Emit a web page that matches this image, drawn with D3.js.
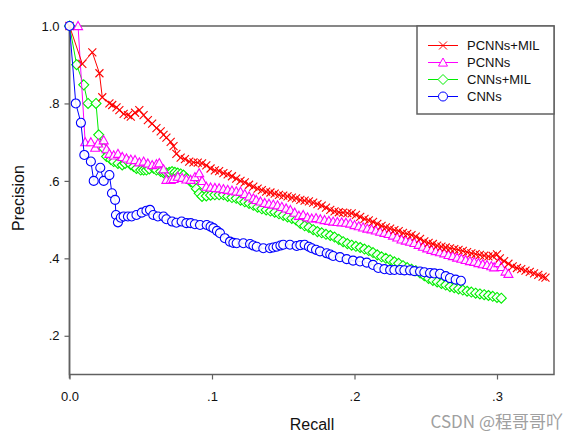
<!DOCTYPE html>
<html><head><meta charset="utf-8">
<script src="https://cdn.jsdelivr.net/npm/d3@7"></script>
<style>html,body{margin:0;padding:0;background:#fff;}svg{display:block;}</style>
</head><body>
<script>
// ---- data ----
const seriesNames = ["PCNNs+MIL", "PCNNs", "CNNs+MIL", "CNNs"];
const seriesColors = ["#ff0000", "#ff00ff", "#00ee00", "#0000ff"];
const xTicks = [0.0, 0.1, 0.2, 0.3];
const xTickLabels = ["0.0", ".1", ".2", ".3"];
const yTicks = [0.2, 0.4, 0.6, 0.8, 1.0];
const yTickLabels = [".2", ".4", ".6", ".8", "1.0"];

const pcnnsMilRecall = [0.000,0.009,0.016,0.021,0.023,0.028,0.030,0.033,0.035,0.038,0.041,0.043,0.046,0.049,0.052,0.055,0.058,0.061,0.064,0.066,0.068,0.071,0.073,0.075,0.078,0.081,0.084,0.087,0.090,0.093,0.096,0.099,0.102,0.105,0.108,0.111,0.114,0.117,0.120,0.123,0.126,0.129,0.132,0.135,0.138,0.141,0.144,0.147,0.150,0.153,0.156,0.159,0.162,0.165,0.168,0.171,0.174,0.177,0.180,0.183,0.186,0.189,0.192,0.195,0.198,0.201,0.204,0.207,0.210,0.213,0.216,0.219,0.222,0.225,0.228,0.231,0.234,0.237,0.240,0.243,0.246,0.249,0.252,0.255,0.258,0.261,0.264,0.267,0.270,0.273,0.276,0.279,0.282,0.285,0.288,0.291,0.294,0.297,0.300,0.302,0.305,0.308,0.311,0.314,0.317,0.320,0.323,0.326,0.329,0.332,0.334];
const pcnnsMilPrecision = [1.000,0.902,0.932,0.878,0.816,0.800,0.796,0.790,0.783,0.773,0.770,0.766,0.776,0.783,0.770,0.757,0.748,0.736,0.728,0.719,0.712,0.701,0.690,0.670,0.660,0.656,0.650,0.648,0.647,0.645,0.640,0.632,0.627,0.625,0.620,0.617,0.612,0.606,0.600,0.596,0.590,0.585,0.580,0.576,0.572,0.570,0.567,0.564,0.562,0.560,0.557,0.555,0.551,0.549,0.547,0.544,0.540,0.536,0.531,0.525,0.521,0.519,0.518,0.517,0.516,0.512,0.507,0.502,0.498,0.494,0.489,0.484,0.480,0.477,0.473,0.470,0.466,0.463,0.460,0.456,0.450,0.444,0.440,0.437,0.433,0.430,0.428,0.426,0.424,0.422,0.419,0.416,0.413,0.411,0.409,0.407,0.405,0.406,0.410,0.400,0.393,0.386,0.379,0.375,0.372,0.368,0.365,0.361,0.357,0.353,0.350];

const pcnnsRecall = [0.006,0.011,0.015,0.018,0.020,0.024,0.026,0.028,0.031,0.034,0.037,0.040,0.043,0.046,0.049,0.052,0.055,0.058,0.061,0.063,0.066,0.068,0.071,0.073,0.076,0.079,0.082,0.085,0.088,0.091,0.093,0.096,0.099,0.102,0.105,0.108,0.111,0.114,0.117,0.120,0.123,0.126,0.129,0.131,0.134,0.137,0.140,0.143,0.146,0.149,0.152,0.155,0.158,0.161,0.164,0.167,0.170,0.173,0.176,0.179,0.182,0.185,0.188,0.191,0.194,0.197,0.200,0.203,0.206,0.209,0.212,0.215,0.218,0.221,0.224,0.227,0.230,0.233,0.236,0.239,0.242,0.245,0.248,0.251,0.254,0.257,0.260,0.263,0.266,0.269,0.272,0.275,0.278,0.281,0.284,0.287,0.290,0.293,0.296,0.298,0.301,0.303,0.306,0.308];
const pcnnsPrecision = [1.000,0.700,0.700,0.686,0.697,0.705,0.682,0.670,0.666,0.670,0.662,0.658,0.655,0.654,0.648,0.650,0.645,0.641,0.643,0.646,0.630,0.603,0.603,0.605,0.611,0.608,0.604,0.603,0.610,0.620,0.600,0.585,0.583,0.582,0.581,0.579,0.577,0.575,0.573,0.572,0.566,0.560,0.555,0.551,0.547,0.543,0.541,0.539,0.537,0.533,0.529,0.525,0.518,0.510,0.512,0.506,0.503,0.504,0.501,0.499,0.497,0.495,0.494,0.493,0.492,0.490,0.486,0.483,0.480,0.477,0.475,0.472,0.469,0.466,0.463,0.459,0.454,0.449,0.446,0.443,0.440,0.435,0.430,0.426,0.422,0.419,0.416,0.413,0.409,0.406,0.402,0.399,0.396,0.393,0.391,0.388,0.385,0.383,0.380,0.377,0.388,0.378,0.366,0.360];

const cnnsMilRecall = [0.000,0.005,0.010,0.013,0.0186,0.0205,0.024,0.026,0.029,0.031,0.034,0.037,0.039,0.041,0.043,0.045,0.047,0.050,0.052,0.054,0.056,0.059,0.061,0.064,0.066,0.068,0.070,0.072,0.074,0.076,0.078,0.080,0.082,0.085,0.087,0.089,0.091,0.093,0.096,0.099,0.102,0.105,0.108,0.111,0.114,0.117,0.120,0.123,0.126,0.129,0.132,0.135,0.138,0.141,0.144,0.147,0.150,0.153,0.156,0.159,0.162,0.165,0.168,0.171,0.174,0.177,0.180,0.183,0.186,0.189,0.192,0.195,0.198,0.201,0.204,0.207,0.210,0.213,0.216,0.219,0.222,0.225,0.228,0.231,0.234,0.237,0.240,0.243,0.246,0.249,0.252,0.255,0.258,0.261,0.264,0.267,0.270,0.273,0.276,0.279,0.282,0.285,0.288,0.291,0.294,0.297,0.300,0.303];
const cnnsMilPrecision = [1.000,0.900,0.848,0.800,0.800,0.719,0.684,0.663,0.655,0.650,0.645,0.641,0.645,0.650,0.642,0.637,0.632,0.628,0.628,0.628,0.631,0.633,0.628,0.624,0.621,0.620,0.622,0.624,0.622,0.620,0.618,0.615,0.607,0.598,0.594,0.580,0.568,0.560,0.561,0.563,0.564,0.564,0.564,0.560,0.557,0.555,0.550,0.546,0.542,0.537,0.532,0.528,0.525,0.522,0.519,0.515,0.511,0.507,0.503,0.499,0.490,0.484,0.480,0.474,0.469,0.466,0.462,0.459,0.455,0.449,0.443,0.438,0.434,0.431,0.428,0.424,0.420,0.415,0.409,0.404,0.400,0.396,0.391,0.387,0.381,0.376,0.372,0.368,0.362,0.355,0.348,0.343,0.339,0.335,0.331,0.327,0.324,0.321,0.318,0.315,0.313,0.310,0.308,0.306,0.304,0.302,0.299,0.297];

const cnnsRecall = [0.000,0.0044,0.008,0.0104,0.015,0.017,0.0216,0.024,0.028,0.0298,0.032,0.0326,0.034,0.036,0.038,0.041,0.0436,0.047,0.0507,0.054,0.0565,0.0588,0.062,0.066,0.068,0.072,0.075,0.0787,0.082,0.085,0.088,0.0916,0.0963,0.099,0.101,0.1035,0.1056,0.109,0.1126,0.115,0.1173,0.122,0.1267,0.129,0.1314,0.136,0.1407,0.143,0.1454,0.148,0.150,0.1547,0.1594,0.162,0.165,0.168,0.170,0.173,0.1758,0.1805,0.183,0.185,0.1898,0.1945,0.199,0.2039,0.2086,0.213,0.2167,0.221,0.225,0.228,0.232,0.235,0.239,0.242,0.246,0.249,0.253,0.256,0.260,0.264,0.267,0.271,0.2747];
const cnnsPrecision = [1.000,0.800,0.750,0.667,0.650,0.600,0.634,0.600,0.615,0.568,0.551,0.512,0.493,0.505,0.508,0.508,0.508,0.512,0.518,0.523,0.525,0.512,0.508,0.508,0.501,0.495,0.492,0.495,0.491,0.491,0.488,0.486,0.486,0.482,0.478,0.471,0.465,0.452,0.443,0.440,0.439,0.439,0.437,0.433,0.430,0.426,0.426,0.428,0.430,0.433,0.435,0.435,0.432,0.434,0.435,0.430,0.426,0.422,0.418,0.413,0.410,0.406,0.403,0.398,0.394,0.392,0.389,0.383,0.375,0.372,0.370,0.370,0.370,0.369,0.369,0.367,0.366,0.364,0.362,0.361,0.360,0.354,0.349,0.345,0.342];

// ---- chart ----
const W = 579, H = 439;
const svg = d3.select("body").append("svg").attr("width", W).attr("height", H);
const pLeft = 69.5, pRight = 554, pTop = 26, pBottom = 374.5;
const x = d3.scaleLinear().domain([0, 0.34]).range([pLeft, pRight]);
const y = d3.scaleLinear().domain([0.1, 1.0]).range([pBottom, pTop]);
const font = "'Liberation Sans', Arial, sans-serif";
const frameColor = "#606060";

// marker shapes
const crossSym = { draw(ctx, size) { const r = Math.sqrt(size) / 2; ctx.moveTo(-r, -r); ctx.lineTo(r, r); ctx.moveTo(-r, r); ctx.lineTo(r, -r); } };
const diamondSym = { draw(ctx, size) { const r = Math.sqrt(size) / 2; ctx.moveTo(0, -r); ctx.lineTo(r, 0); ctx.lineTo(0, r); ctx.lineTo(-r, 0); ctx.closePath(); } };
const triSym = { draw(ctx, size) { const r = Math.sqrt(size) / 2; ctx.moveTo(0, -r); ctx.lineTo(r, r * 0.8); ctx.lineTo(-r, r * 0.8); ctx.closePath(); } };
const symTypes = [crossSym, triSym, diamondSym, d3.symbolCircle];
const symSizes = [64, 81, 100, 64];

const series = [
  { r: pcnnsMilRecall, p: pcnnsMilPrecision },
  { r: pcnnsRecall, p: pcnnsPrecision },
  { r: cnnsMilRecall, p: cnnsMilPrecision },
  { r: cnnsRecall, p: cnnsPrecision }
];

// frame
svg.append("rect").attr("x", pLeft).attr("y", pTop).attr("width", pRight - pLeft).attr("height", pBottom - pTop)
  .attr("fill", "none").attr("stroke", frameColor).attr("stroke-width", 1.5);
svg.append("line").attr("x1", pLeft).attr("x2", pLeft).attr("y1", pTop).attr("y2", pBottom + 4)
  .attr("stroke", frameColor).attr("stroke-width", 1.5);

// axes
const xAxis = d3.axisBottom(x).tickValues(xTicks).tickFormat((d, i) => xTickLabels[i]).tickSize(5).tickSizeOuter(0).tickPadding(12);
const gx = svg.append("g").attr("transform", `translate(0,${pBottom})`).call(xAxis);
gx.select(".domain").remove();
gx.selectAll("line").attr("stroke", frameColor).attr("stroke-width", 1.2);
gx.selectAll("text").attr("font-family", font).attr("font-size", 13).attr("fill", "#111");

const yAxis = d3.axisLeft(y).tickValues(yTicks).tickFormat((d, i) => yTickLabels[i]).tickSize(5).tickSizeOuter(0).tickPadding(5);
const gy = svg.append("g").attr("transform", `translate(${pLeft},0)`).call(yAxis);
gy.select(".domain").remove();
gy.selectAll("line").attr("stroke", frameColor).attr("stroke-width", 1.2);
gy.selectAll("text").attr("font-family", font).attr("font-size", 13).attr("fill", "#111");

// titles
svg.append("text").attr("x", 312).attr("y", 430).attr("text-anchor", "middle")
  .attr("font-family", font).attr("font-size", 16).attr("fill", "#111").text("Recall");
svg.append("text").attr("transform", "translate(24,198) rotate(-90)").attr("text-anchor", "middle")
  .attr("font-family", font).attr("font-size", 16).attr("fill", "#111").text("Precision");

// series
const line = d3.line();
const drawOrder = [2, 1, 0, 3];
const plot = svg.append("g");
drawOrder.forEach(i => {
  const s = series[i];
  const pts = s.r.map((rv, k) => [x(rv), y(s.p[k])]);
  const g = plot.append("g");
  g.append("path").attr("d", line(pts)).attr("fill", "none").attr("stroke", seriesColors[i]).attr("stroke-width", 1);
  const sym = d3.symbol().type(symTypes[i]).size(symSizes[i]);
  g.selectAll("path.m").data(pts).join("path").attr("class", "m")
    .attr("transform", d => `translate(${d[0]},${d[1]})`)
    .attr("d", sym())
    .attr("fill", i === 0 ? "none" : "#fff").attr("fill-opacity", i === 0 ? 0 : 0.9)
    .attr("stroke", seriesColors[i]).attr("stroke-width", 1.1);
});

// legend
const lg = svg.append("g");
lg.append("rect").attr("x", 417).attr("y", pTop).attr("width", pRight - 417).attr("height", 114 - pTop)
  .attr("fill", "#fff").attr("stroke", frameColor).attr("stroke-width", 1.5);
const legendY = [45.5, 62.5, 79.5, 96.5];
seriesNames.forEach((name, i) => {
  const ly = legendY[i];
  lg.append("line").attr("x1", 428).attr("x2", 458).attr("y1", ly).attr("y2", ly)
    .attr("stroke", seriesColors[i]).attr("stroke-width", 1);
  lg.append("path").attr("transform", `translate(443,${ly})`).attr("d", d3.symbol().type(symTypes[i]).size(symSizes[i])())
    .attr("fill", i === 0 ? "none" : "#fff").attr("stroke", seriesColors[i]).attr("stroke-width", 1);
  lg.append("text").attr("x", 467).attr("y", ly).attr("dy", "0.35em")
    .attr("font-family", font).attr("font-size", 13).attr("fill", "#111").text(name);
});

// watermark
svg.append("text").attr("x", 563).attr("y", 428).attr("text-anchor", "end")
  .attr("font-family", "'Noto Sans CJK SC', 'Noto Sans', sans-serif").attr("font-size", 17)
  .attr("fill", "#a0a0a0").text("CSDN @程哥哥吖");
</script>
</body></html>
